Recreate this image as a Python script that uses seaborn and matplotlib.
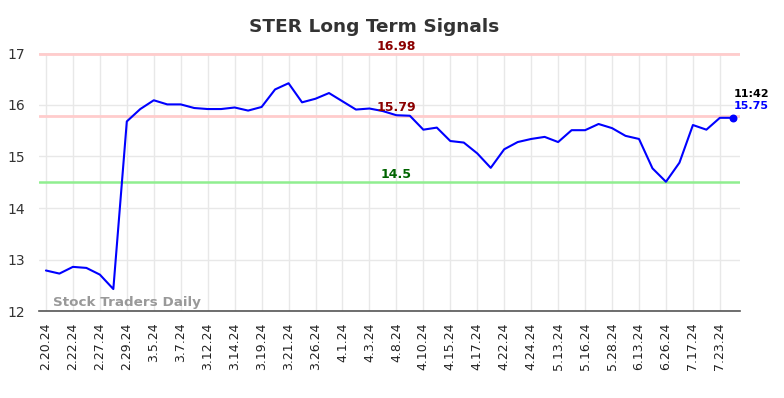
"""STER long term signals chart, redrawn with seaborn."""

import matplotlib

matplotlib.use("Agg")
import matplotlib.pyplot as plt
import numpy as np
import pandas as pd
import seaborn as sns

TICK_LABELS = [
    "2.20.24", "2.22.24", "2.27.24", "2.29.24", "3.5.24", "3.7.24", "3.12.24",
    "3.14.24", "3.19.24", "3.21.24", "3.26.24", "4.1.24", "4.3.24", "4.8.24",
    "4.10.24", "4.15.24", "4.17.24", "4.22.24", "4.24.24", "5.13.24", "5.16.24",
    "5.28.24", "6.13.24", "6.26.24", "7.17.24", "7.23.24",
]
PRICES = [
    12.79, 12.73, 12.86, 12.84, 12.71, 12.43, 15.68, 15.92, 16.09, 16.01,
    16.01, 15.94, 15.92, 15.92, 15.95, 15.89, 15.96, 16.30, 16.42, 16.05,
    16.12, 16.23, 16.07, 15.91, 15.93, 15.88, 15.80, 15.79, 15.52, 15.56,
    15.30, 15.27, 15.06, 14.78, 15.14, 15.28, 15.34, 15.38, 15.28, 15.51,
    15.51, 15.63, 15.55, 15.40, 15.34, 14.77, 14.51, 14.88, 15.61, 15.52,
    15.75, 15.75,
]
RESISTANCE_HIGH = 16.98
RESISTANCE_LOW = 15.79
SUPPORT = 14.5
LAST_TIME = "11:42"

df = pd.DataFrame({"idx": np.arange(len(PRICES)), "price": PRICES})

sns.set_theme(style="whitegrid")
plt.rcParams["font.family"] = ["DejaVu Sans"]

fig, ax = plt.subplots(figsize=(7.84, 3.98), dpi=100)
fig.subplots_adjust(left=0.05, right=0.944, top=0.866, bottom=0.218)

ax.axhline(RESISTANCE_HIGH, color="#ffcccc", lw=2, zorder=1)
ax.axhline(RESISTANCE_LOW, color="#ffcccc", lw=2, zorder=1)
ax.axhline(SUPPORT, color="#90ee90", lw=1.8, zorder=1)

sns.lineplot(data=df, x="idx", y="price", color="#0000ff", lw=1.5, ax=ax, zorder=3)
ax.scatter(df["idx"].iloc[-1], df["price"].iloc[-1], s=22, color="#0000ff", zorder=4)

# level labels sit a little right of the middle of the series
mid = len(PRICES) // 2
ax.text(mid, RESISTANCE_HIGH + 0.03, f"{RESISTANCE_HIGH:g}", color="#8b0000",
        fontsize=9, fontweight="bold", ha="center", va="bottom")
ax.text(mid, RESISTANCE_LOW + 0.03, f"{RESISTANCE_LOW:g}", color="#8b0000",
        fontsize=9, fontweight="bold", ha="center", va="bottom")
ax.text(mid, SUPPORT + 0.03, f"{SUPPORT:g}", color="#006400",
        fontsize=9, fontweight="bold", ha="center", va="bottom")

last_x = df["idx"].iloc[-1]
ax.text(last_x, PRICES[-1] + 0.36, LAST_TIME, color="black", fontsize=8,
        fontweight="bold", ha="left", va="bottom")
ax.text(last_x, PRICES[-1] + 0.13, f"{PRICES[-1]:g}", color="#0000ff", fontsize=8,
        fontweight="bold", ha="left", va="bottom")

ax.text(0.5, 12.05, "Stock Traders Daily", color="#999999", fontsize=9.7,
        fontweight="bold", ha="left", va="bottom")

ax.set_xlim(-0.5, len(PRICES) - 0.5)
ax.set_ylim(12, 17)
ax.set_xticks(np.arange(0, len(PRICES), 2)[: len(TICK_LABELS)])
ax.set_xticklabels(TICK_LABELS, rotation=90, fontsize=9, color="#222222")
ax.set_yticks([12, 13, 14, 15, 16, 17])
ax.tick_params(axis="y", labelsize=10, labelcolor="#333333", length=0, pad=10)
ax.tick_params(axis="x", length=0, pad=8)
ax.set_xlabel("")
ax.set_ylabel("")
ax.grid(color="#e8e8e8", lw=1)

for side in ("top", "right", "left"):
    ax.spines[side].set_visible(False)
ax.spines["bottom"].set_color("#555555")
ax.spines["bottom"].set_linewidth(1.2)

fig.suptitle("STER Long Term Signals", x=0.477, y=0.955, fontsize=13.3,
             fontweight="bold", color="#333333")

fig.savefig("out.png", dpi=100)
